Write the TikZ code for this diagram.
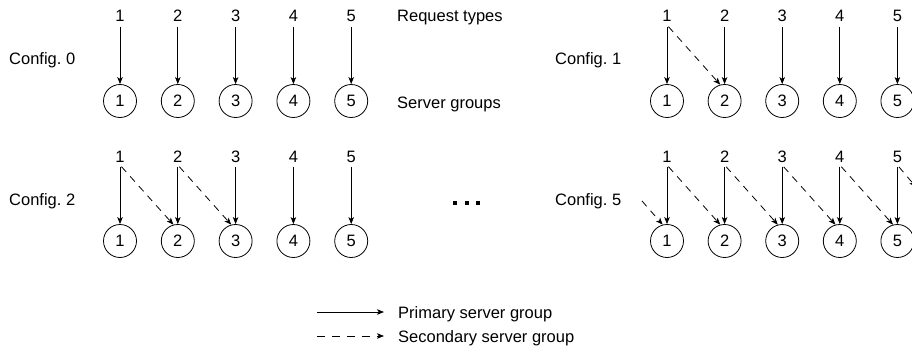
\documentclass[tikz,border=0pt]{standalone}
\usepackage{fontspec}
\setmainfont{Liberation Sans}
\usetikzlibrary{arrows.meta}
\frenchspacing

\begin{document}
\begin{tikzpicture}[x=1pt,y=-1pt,
  lbl/.style={font=\fontsize{16.5}{19}\selectfont, inner sep=0pt},
  req/.style={lbl, inner xsep=0pt, inner ysep=4.5pt, anchor=base},
  grp/.style={circle, draw, line width=0.8pt, minimum size=33pt, inner sep=0pt,
              font=\fontsize{16.5}{19}\selectfont},
  primary/.style={-{Stealth[length=7pt,width=5.5pt,inset=1.8pt]}, line width=0.8pt},
  secondary/.style={primary, dash pattern=on 7pt off 6pt},
]
\clip (0,0) rectangle (912,350);
\fill[white] (0,0) rectangle (912,350);

% four configurations: name / x of first group / step / row offset / label x
\foreach \c/\xo/\st/\dy/\lx in {0/120/57.8/0/9, 1/667/57.6/0/555, 2/120/57.8/140/9, 5/667/57.6/140/555} {
  \node[lbl, anchor=base west] (cfg\c) at (\lx, 65+\dy) {Config. \c};
  \foreach \k in {1,...,5} {
    \node[req] (r\c-\k) at ({\xo+(\k-1)*\st}, 22+\dy) {\k};
    \node[grp] (s\c-\k) at ({\xo+(\k-1)*\st}, 101+\dy) {\k};
    \draw[primary] (r\c-\k.south) -- (s\c-\k.north);
  }
}

% secondary assignments
\foreach \c/\n in {1/1, 2/2, 5/4} {
  \foreach \k in {1,...,\n} {
    \pgfmathtruncatemacro{\kk}{\k+1}
    \draw[secondary] ([xshift=1.5pt]r\c-\k.south) -- (s\c-\kk.105);
  }
}
\coordinate (wrapout) at (916,187);
\coordinate (wrapin) at (642,201);
\draw[secondary] ([xshift=1.5pt]r5-5.south) -- (wrapout);
\draw[secondary] (wrapin) -- (s5-1.105);

% row captions
\node[lbl, anchor=base west] (reqtypes) at (397,22) {Request types};
\node[lbl, anchor=base west] (srvgroups) at (397,109) {Server groups};

% ellipsis between the rows
\foreach \x in {453,465,476} \fill (\x,201) rectangle +(4.2,4.2);

% legend
\coordinate (pa) at (317,312);
\coordinate (pb) at (384,312);
\coordinate (sa) at (317,336);
\coordinate (sb) at (384,336);
\draw[primary] (pa) -- (pb);
\draw[secondary, dash pattern=on 8pt off 7pt] (sa) -- (sb);
\node[lbl, anchor=base west] (lp) at (398,318) {Primary server group};
\node[lbl, anchor=base west] (ls) at (398,342) {Secondary server group};
\end{tikzpicture}
\end{document}
